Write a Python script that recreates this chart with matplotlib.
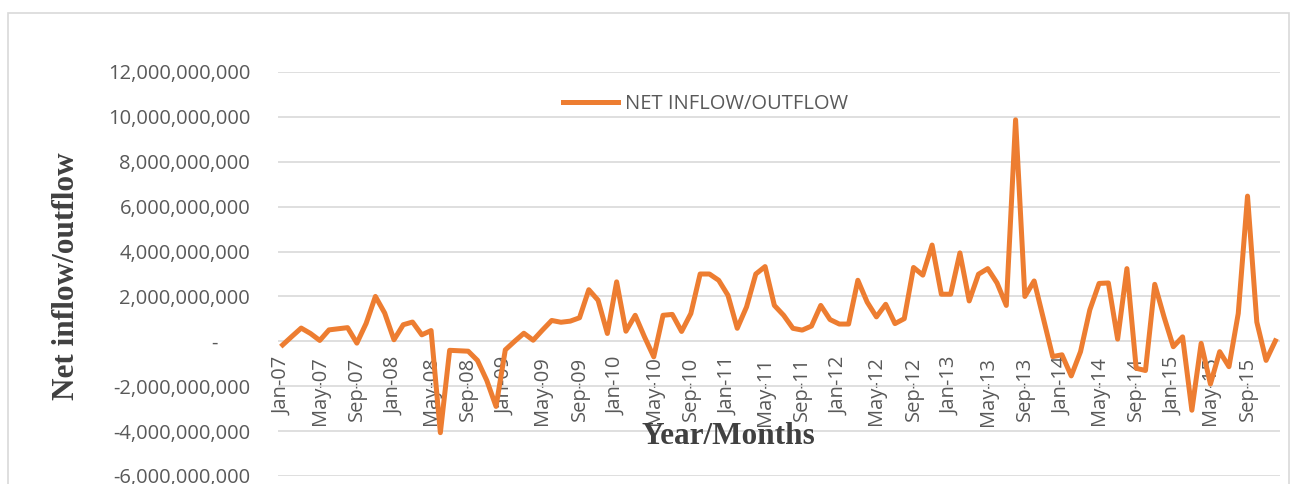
import numpy as np
import matplotlib.pyplot as plt
from matplotlib.patches import Rectangle
from matplotlib.ticker import FuncFormatter

month_names = ["Jan", "Feb", "Mar", "Apr", "May", "Jun",
               "Jul", "Aug", "Sep", "Oct", "Nov", "Dec"]
years = list(range(2007, 2016))
months = [f"{m}-{y % 100:02d}" for y in years for m in month_names]

# net inflow/outflow, billions, Jan-07 .. Dec-15
net_flow_bn = [
    -0.16, 0.22, 0.59, 0.35, 0.04, 0.51, 0.56, 0.61, -0.08, 0.80, 2.00, 1.26,
    0.07, 0.74, 0.86, 0.29, 0.48, -4.07, -0.40, -0.42, -0.44, -0.85, -1.74, -2.90,
    -0.38, 0.00, 0.36, 0.05, 0.50, 0.93, 0.85, 0.90, 1.05, 2.30, 1.83, 0.35,
    2.65, 0.45, 1.16, 0.20, -0.69, 1.16, 1.20, 0.44, 1.24, 3.00, 3.00, 2.72,
    2.05, 0.58, 1.53, 3.00, 3.33, 1.60, 1.16, 0.58, 0.50, 0.68, 1.60, 0.97,
    0.77, 0.77, 2.72, 1.75, 1.09, 1.65, 0.79, 1.01, 3.29, 2.95, 4.29, 2.10,
    2.10, 3.94, 1.80, 2.99, 3.24, 2.60, 1.60, 9.87, 2.00, 2.69, 1.01, -0.68,
    -0.60, -1.54, -0.46, 1.40, 2.58, 2.60, 0.10, 3.24, -1.20, -1.30, 2.54, 1.09,
    -0.24, 0.20, -3.07, -0.09, -1.90, -0.46, -1.13, 1.24, 6.47, 0.86, -0.85, 0.02,
]
series_name = "NET INFLOW/OUTFLOW"
y_ticks = [-6e9, -4e9, -2e9, 0, 2e9, 4e9, 6e9, 8e9, 10e9, 12e9]

W, H = 1292, 484
plt.rcParams['font.family'] = ['Open Sans', 'DejaVu Sans']

fig = plt.figure(figsize=(W / 100, H / 100), dpi=100)
fig.patches.append(Rectangle((8 / W, -0.1), (1289 - 8) / W, 1.1 - 13 / H,
                             transform=fig.transFigure, fill=False,
                             edgecolor='#d9d9d9', lw=1.2))

ax = fig.add_axes([278 / W, (H - 476) / H, (1280 - 278) / W, (476 - 72) / H])

x = np.arange(len(months))
vals = np.array(net_flow_bn) * 1e9
ax.plot(x, vals, color='#ED7D31', lw=3.6, label=series_name)

ax.set_xlim(-0.5, len(months) - 0.5)
ax.set_ylim(y_ticks[0], y_ticks[-1])
ax.set_yticks(y_ticks)
ax.yaxis.set_major_formatter(FuncFormatter(
    lambda v, _: "-      " if v == 0 else f"{v:,.0f}"))
ax.yaxis.grid(True, color='#d9d9d9', lw=1.2)
ax.set_axisbelow(True)

for s in ax.spines.values():
    s.set_visible(False)
ax.spines['bottom'].set_position(('data', 0))

ax.set_xticks(x[::4])
ax.set_xticklabels(months[::4], rotation=90)
ax.tick_params(axis='x', length=0, pad=11, labelsize=14.5, labelcolor='#595959')
ax.tick_params(axis='y', length=0, pad=20, labelsize=14.5, labelcolor='#595959')

serif = ['Liberation Serif', 'DejaVu Serif']
fig.text(67 / W, 1 - 276 / H, "Net inflow/outflow", rotation=90,
         ha='center', va='center', family=serif, weight='bold',
         fontsize=22.5, color='#404040')
fig.text(728 / W, 1 - 437 / H, "Year/Months", ha='center', va='center',
         family=serif, weight='bold', fontsize=22.5, color='#404040')

fs_px = 14.5 * 100 / 72
ax.legend(loc='center left', bbox_to_anchor=(563 / W, 1 - 104 / H),
          bbox_transform=fig.transFigure, frameon=False, fontsize=14.5,
          borderaxespad=0, borderpad=0, handlelength=55 / fs_px,
          handletextpad=7 / fs_px, labelcolor='#595959')

fig.savefig("out.png", dpi=100)
